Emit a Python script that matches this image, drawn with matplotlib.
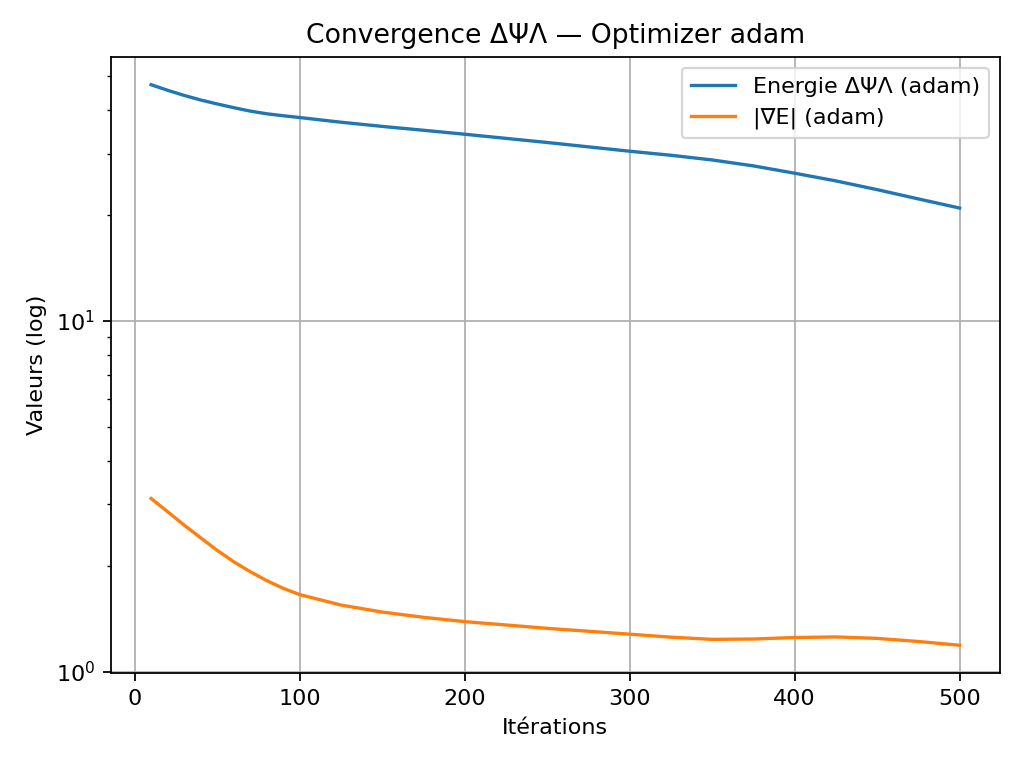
import matplotlib
matplotlib.use("Agg")
import matplotlib.pyplot as plt

# valeurs
iterations = [10, 20, 30, 40, 50, 60, 70, 80, 90, 100, 125, 150, 175, 200,
              250, 300, 325, 350, 375, 400, 425, 450, 475, 500]
energie = [47.2, 45.5, 44.0, 42.7, 41.6, 40.6, 39.7, 39.0, 38.5, 38.05, 36.9, 35.9,
           35.0, 34.1, 32.3, 30.5, 29.7, 28.8, 27.7, 26.4, 25.1, 23.7, 22.3, 21.0]
grad_norm = [3.12, 2.86, 2.62, 2.41, 2.22, 2.06, 1.93, 1.82, 1.73, 1.66, 1.55, 1.48,
             1.43, 1.39, 1.33, 1.28, 1.255, 1.237, 1.24, 1.252, 1.257, 1.245, 1.22, 1.19]

fig, ax = plt.subplots(figsize=(6.4, 4.8), dpi=160)
ax.plot(iterations, energie, label="Energie ΔΨΛ (adam)")
ax.plot(iterations, grad_norm, label="|∇E| (adam)")
ax.set_yscale("log")
ax.set_title("Convergence ΔΨΛ — Optimizer adam")
ax.set_xlabel("Itérations")
ax.set_ylabel("Valeurs (log)")
ax.grid(True)
ax.legend(loc="upper right")
fig.subplots_adjust(left=0.1081, right=0.9766, top=0.9262, bottom=0.1233)
fig.savefig("out.png")
